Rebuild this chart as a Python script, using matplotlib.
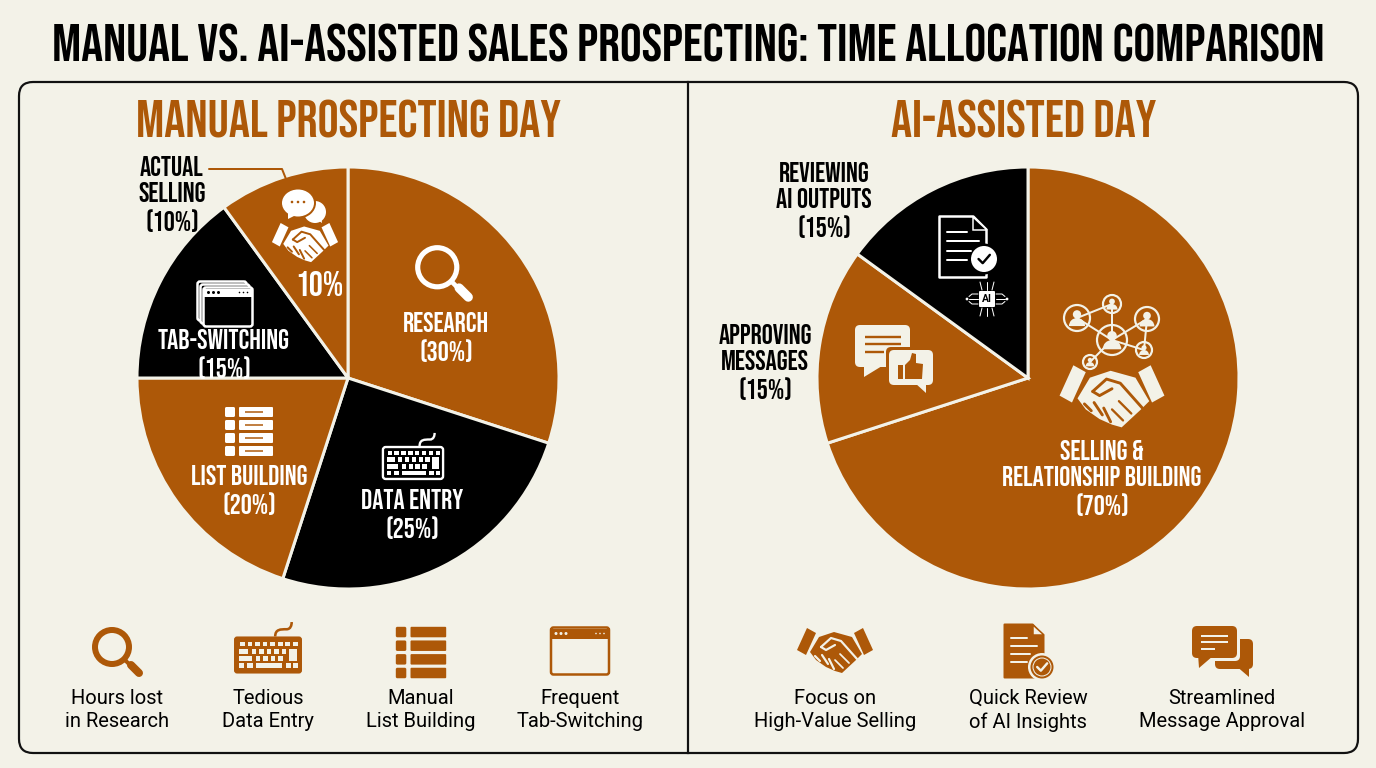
import matplotlib
matplotlib.use("Agg")
import matplotlib.pyplot as plt
from matplotlib.patches import Circle, Ellipse, FancyBboxPatch, PathPatch, Polygon, Rectangle, Wedge
from matplotlib.path import Path

BROWN = '#AD5808'
CREAM = '#F3F2E8'
BLACK = '#000000'
HEAD = ['Bebas Neue', 'DejaVu Sans']

W, H = 1376, 768

title = 'MANUAL VS. AI-ASSISTED SALES PROSPECTING: TIME ALLOCATION COMPARISON'

manual_title = 'MANUAL PROSPECTING DAY'
manual_labels = ['RESEARCH', 'DATA ENTRY', 'LIST BUILDING', 'TAB-SWITCHING', 'ACTUAL\nSELLING']
manual_values = [30, 25, 20, 15, 10]
manual_colors = [BROWN, BLACK, BROWN, BLACK, BROWN]
manual_notes = ['Hours lost\nin Research', 'Tedious\nData Entry', 'Manual\nList Building', 'Frequent\nTab-Switching']

ai_title = 'AI-ASSISTED DAY'
ai_labels = ['SELLING &\nRELATIONSHIP BUILDING', 'APPROVING\nMESSAGES', 'REVIEWING\nAI OUTPUTS']
ai_values = [70, 15, 15]
ai_colors = [BROWN, BROWN, BLACK]
ai_notes = ['Focus on\nHigh-Value Selling', 'Quick Review\nof AI Insights', 'Streamlined\nMessage Approval']


def px(n):
    # stroke widths are thought of in pixels, matplotlib wants points
    return n * 72 / 100


def rrect(ax, x0, y0, x1, y1, r, **kw):
    ax.add_patch(FancyBboxPatch((x0 + r, y0 + r), x1 - x0 - 2 * r, y1 - y0 - 2 * r,
                                boxstyle=f'round,pad={r}', **kw))


def stroke(ax, pts, color, width, cap='round'):
    xs, ys = zip(*pts)
    ax.plot(xs, ys, color=color, lw=px(width), solid_capstyle=cap, solid_joinstyle='round')


def magnifier(ax, cx, cy, s, fg, ring=6):
    ax.add_patch(Circle((cx - 5 * s, cy - 5 * s), 17 * s, fill=False, ec=fg, lw=px(ring * s)))
    stroke(ax, [(cx + 8 * s, cy + 8 * s), (cx + 13 * s, cy + 13 * s)], fg, 4 * s, 'butt')
    stroke(ax, [(cx + 14 * s, cy + 13 * s), (cx + 22 * s, cy + 21 * s)], fg, 8 * s)


def keyboard(ax, cx, cy, s, fg, bg, filled):
    x0, x1, y0, y1 = cx - 33 * s, cx + 33 * s, cy - 18 * s, cy + 18 * s
    if filled:
        rrect(ax, x0, y0, x1, y1, 3 * s, fc=fg, ec='none')
        key = bg
    else:
        rrect(ax, x0 + s, y0 + s, x1 - s, y1 - s, 3 * s, fc=bg, ec=fg, lw=px(2.5 * s))
        key = fg
    cable = Path([(cx + 7 * s, y0), (cx + 7 * s, y0 - 7 * s), (cx + 12 * s, y0 - 7 * s), (cx + 18 * s, y0 - 7 * s),
                  (cx + 22 * s, y0 - 7 * s), (cx + 23 * s, y0 - 11 * s), (cx + 23 * s, y0 - 14 * s)],
                 [Path.MOVETO] + [Path.CURVE4] * 6)
    ax.add_patch(PathPatch(cable, fill=False, ec=fg, lw=px(2.5 * s)))
    for i in range(8):
        x = cx - 27 * s + i * 7.3 * s
        ax.add_patch(Rectangle((x, cy - 13 * s), 4.6 * s, 4.6 * s, fc=key, ec='none'))
    ax.add_patch(Rectangle((cx - 28 * s, cy - 6 * s), 9 * s, 5 * s, fc=key, ec='none'))
    for i in range(5):
        ax.add_patch(Rectangle((cx - 16 * s + i * 7.3 * s, cy - 6 * s), 4.6 * s, 5 * s, fc=key, ec='none'))
    ax.add_patch(Rectangle((cx + 20 * s, cy - 6 * s), 8 * s, 12 * s, fc=key, ec='none'))
    ax.add_patch(Rectangle((cx - 28 * s, cy + 1 * s), 12 * s, 5 * s, fc=key, ec='none'))
    for i in range(4):
        ax.add_patch(Rectangle((cx - 12 * s + i * 7.3 * s, cy + 1 * s), 4.6 * s, 5 * s, fc=key, ec='none'))
    for off, wid in ((-28, 5), (-20, 5), (-12, 26), (17, 5), (24, 5)):
        ax.add_patch(Rectangle((cx + off * s, cy + 8 * s), wid * s, 5 * s, fc=key, ec='none'))


def list_icon(ax, cx, cy, s, fg, slot=None):
    for i in range(4):
        y = cy + (-24 + i * 13) * s
        rrect(ax, cx - 24 * s, y, cx - 14 * s, y + 10 * s, 1.5 * s, fc=fg, ec='none')
        rrect(ax, cx - 10 * s, y, cx + 24 * s, y + 10 * s, 1 * s, fc=fg, ec='none')
        if slot:
            stroke(ax, [(cx - 4 * s, y + 5 * s), (cx + 14 * s, y + 5 * s)], slot, 1.5 * s, 'butt')


def window(ax, cx, cy, w, h, fg, bg, bar=10):
    x0, x1, y0, y1 = cx - w / 2, cx + w / 2, cy - h / 2, cy + h / 2
    rrect(ax, x0, y0, x1, y1, 2.5, fc=bg, ec=fg, lw=px(2.5))
    ax.add_patch(Rectangle((x0, y0 + 1), w, bar, fc=fg, ec='none'))
    if not bar:
        return
    for i in range(3):
        ax.add_patch(Circle((x0 + 5 + i * 5, y0 + 1 + bar / 2), 1.5, fc=bg, ec='none'))
        ax.add_patch(Circle((x1 - 5 - i * 4, y0 + 1 + bar / 2), 0.8, fc=bg, ec='none'))


def handshake(ax, cx, cy, s, fg, bg):
    def pts(seq):
        return [(cx + a * s, cy + b * s) for a, b in seq]
    ax.add_patch(Polygon(pts([(-38, -1), (-28, -23), (-19, -18), (-29, 4)]), fc=fg, ec='none'))
    ax.add_patch(Polygon(pts([(19, -18), (28, -23), (38, -1), (29, 4)]), fc=fg, ec='none'))
    ax.add_patch(Polygon(pts([(-25, 1), (-16, -14), (-1, -19), (17, -14), (27, 3), (21, 9),
                              (7, 22), (0, 20), (-9, 16), (-19, 9)]), fc=fg, ec='none'))
    wid = 1.8 * s + 0.4
    stroke(ax, pts([(-14, -4), (-4, -13), (6, -10), (22, 8)]), bg, wid)
    stroke(ax, pts([(-14, -4), (-9, -1), (0, -6)]), bg, wid)
    stroke(ax, pts([(5, 3), (14, 12)]), bg, wid * 0.8)
    stroke(ax, pts([(0, 9), (8, 17)]), bg, wid * 0.8)
    stroke(ax, pts([(-20, 5), (-15, 10)]), bg, wid)
    stroke(ax, pts([(-13, 4), (-7, 13)]), bg, wid)
    stroke(ax, pts([(-6, 8), (-1, 18)]), bg, wid)


def document(ax, cx, cy, w, h, fg, bg, outline):
    x0, x1, y0, y1 = cx - w / 2, cx + w / 2, cy - h / 2, cy + h / 2
    fold = w * 0.28
    body = [(x0, y0), (x1 - fold, y0), (x1, y0 + fold), (x1, y1), (x0, y1)]
    if outline:
        ax.add_patch(Polygon(body, fc=bg, ec=fg, lw=px(2.5), joinstyle='round'))
        ink = fg
    else:
        ax.add_patch(Polygon(body, fc=fg, ec=fg, lw=px(2), joinstyle='round'))
        ink = bg
    ax.add_patch(Polygon([(x1 - fold, y0), (x1 - fold, y0 + fold), (x1, y0 + fold)], fc=bg, ec=fg, lw=px(1.5)))
    for i, frac in enumerate([0.42, 0.68, 0.5, 0.42]):
        y = y0 + h * (0.25 + i * 0.155)
        stroke(ax, [(x0 + w * 0.16, y), (x0 + w * (0.16 + frac), y)], ink, 2)


def check_badge(ax, x, y, r, disc, ink, gap):
    ax.add_patch(Circle((x, y), r + 2.5, fc=gap, ec='none'))
    ax.add_patch(Circle((x, y), r, fc=disc, ec='none'))
    stroke(ax, [(x - r * 0.42, y), (x - r * 0.1, y + r * 0.32), (x + r * 0.45, y - r * 0.32)], ink, 2.4)


def ai_chip(ax, cx, cy, fg, bg):
    rrect(ax, cx - 8, cy - 8, cx + 8, cy + 8, 1, fc=fg, ec='none')
    ax.text(cx, cy, 'AI', ha='center', va='center', color=bg, fontsize=7.5, fontweight='bold', family='Roboto')
    for sign in (-1, 1):
        for off in (-5, 0, 5):
            stroke(ax, [(cx + sign * 9, cy + off), (cx + sign * 15, cy + off), (cx + sign * 18, cy + off * 0.5)], fg, 1)
            stroke(ax, [(cx + off, cy + sign * 9), (cx + off * 1.4, cy + sign * 17)], fg, 1)
        ax.add_patch(Circle((cx + sign * 20, cy), 1.4, fc=fg, ec='none'))


def person_node(ax, x, y, r, fg, bg):
    ax.add_patch(Circle((x, y), r, fc=bg, ec=fg, lw=px(2.2)))
    ax.add_patch(Circle((x, y - r * 0.28), r * 0.32, fc=fg, ec='none'))
    ax.add_patch(Wedge((x, y + r * 0.62), r * 0.62, 180, 360, fc=fg, ec='none'))


def network(ax, fg, bg):
    hub = (1112, 340)
    nodes = [(1077, 318, 13), (1112, 304, 9), (1147, 319, 12), (1144, 350, 8), (1090, 362, 7)]
    for n in nodes:
        stroke(ax, [hub, n[:2]], fg, 2)
    stroke(ax, [nodes[0][:2], nodes[1][:2]], fg, 2)
    stroke(ax, [nodes[2][:2], nodes[3][:2]], fg, 2)
    person_node(ax, hub[0], hub[1], 15, fg, bg)
    for x, y, r in nodes:
        person_node(ax, x, y, r, fg, bg)


def bubble(ax, x0, y0, x1, y1, tail, fg):
    rrect(ax, x0, y0, x1, y1, 5, fc=fg, ec='none')
    ax.add_patch(Polygon(tail, fc=fg, ec='none'))


def thumb_up(ax, cx, cy, fg):
    ax.add_patch(Rectangle((cx - 13, cy - 3), 5, 14, fc=fg, ec='none'))
    ax.add_patch(Polygon([(cx - 6, cy - 3), (cx - 1, cy - 8), (cx + 1, cy - 15), (cx + 5, cy - 14),
                          (cx + 5, cy - 5), (cx + 12, cy - 4), (cx + 11, cy + 11), (cx - 6, cy + 11)],
                         fc=fg, ec='none'))


fig = plt.figure(figsize=(W / 100, H / 100), dpi=100, facecolor=CREAM)


def pie_axes(cx, cy, r):
    ax = fig.add_axes([(cx - r) / W, 1 - (cy + r) / H, 2 * r / W, 2 * r / H])
    return ax


# the two pies, both running clockwise from twelve o'clock
wedge_style = dict(edgecolor=CREAM, linewidth=px(3))
ax_manual = pie_axes(348, 378, 211)
ax_manual.pie(manual_values, colors=manual_colors, startangle=90, counterclock=False, radius=1,
              wedgeprops=wedge_style, frame=False)
ax_manual.set_xlim(-1, 1)
ax_manual.set_ylim(-1, 1)

ax_ai = pie_axes(1028, 378, 211)
ax_ai.pie(ai_values, colors=ai_colors, startangle=90, counterclock=False, radius=1,
          wedgeprops=wedge_style, frame=False)
ax_ai.set_xlim(-1, 1)
ax_ai.set_ylim(-1, 1)

# everything else sits on a pixel-scaled overlay
ov = fig.add_axes([0, 0, 1, 1], zorder=5)
ov.set_xlim(0, W)
ov.set_ylim(H, 0)
ov.axis('off')
ov.patch.set_alpha(0)

rrect(ov, 19, 82, 1358, 753, 14, fc='none', ec='#111111', lw=px(2.2))
ov.plot([688, 688], [82, 753], color='#111111', lw=px(2.2))

ov.text(688, 43, title, ha='center', va='center', family=HEAD, fontsize=39.2, color=BLACK)
ov.text(348, 119, manual_title, ha='center', va='center', family=HEAD, fontsize=37.8, color=BROWN)
ov.text(1024, 119, ai_title, ha='center', va='center', family=HEAD, fontsize=37.8, color=BROWN)


def pie_label(x, y, name, value, color):
    ov.text(x, y, f'{name}\n({value}%)', ha='center', va='center', family=HEAD,
            fontsize=20, color=color, linespacing=1.32)


pie_label(446, 337, manual_labels[0], manual_values[0], 'white')
pie_label(412, 514, manual_labels[1], manual_values[1], 'white')
pie_label(249, 490, manual_labels[2], manual_values[2], 'white')
pie_label(224, 354, manual_labels[3], manual_values[3], 'white')
pie_label(172, 194, manual_labels[4], manual_values[4], BLACK)
ov.text(319, 284, f'{manual_values[4]}%', ha='center', va='center', family=HEAD, fontsize=25, color='white')
stroke(ov, [(209, 169), (282, 169), (286, 179)], BROWN, 2)

pie_label(1102, 478, ai_labels[0], ai_values[0], 'white')
pie_label(765, 362, ai_labels[1], ai_values[1], BLACK)
pie_label(824, 200, ai_labels[2], ai_values[2], BLACK)

# icons inside the manual pie
magnifier(ov, 443, 273, 1.15, 'white', ring=4.5)
keyboard(ov, 413, 463, 0.94, 'white', BLACK, False)
list_icon(ov, 249, 431, 1.0, 'white', BROWN)
for off in (-6, -3):
    window(ov, 228 + off, 307 + off, 49, 39, 'white', BLACK, 0)
window(ov, 228, 307, 49, 39, 'white', BLACK, 8)
ov.add_patch(Ellipse((315, 212), 22, 22, fc='white', ec='none'))
ov.add_patch(Polygon([(315, 218), (322, 223), (321, 214)], fc='white', ec='none'))
ov.add_patch(Ellipse((298, 203), 36, 31, fc=BROWN, ec='none'))
ov.add_patch(Ellipse((298, 203), 32, 27, fc='white', ec='none'))
ov.add_patch(Polygon([(288, 212), (288, 219), (298, 214)], fc='white', ec='none'))
for dx in (-6, 0, 6):
    ov.add_patch(Circle((298 + dx, 202), 1.3, fc=BROWN, ec='none'))
handshake(ov, 305, 243, 0.87, 'white', BROWN)

# icons inside the AI pie
document(ov, 963, 247, 47, 61, 'white', BLACK, True)
check_badge(ov, 984, 259, 13, 'white', BLACK, BLACK)
ai_chip(ov, 987, 299, 'white', BLACK)
bubble(ov, 855, 325, 910, 367, [(864, 362), (864, 377), (882, 366)], CREAM)
for y, x1 in ((337, 901), (344, 901), (352, 884)):
    stroke(ov, [(865, y), (x1, y)], BROWN, 2.4, 'butt')
bubble(ov, 886, 347, 936, 388, [(915, 383), (926, 394), (926, 383)], BROWN)
bubble(ov, 889, 350, 933, 385, [(915, 383), (926, 393), (926, 383)], CREAM)
thumb_up(ov, 911, 368, BROWN)
network(ov, CREAM, BROWN)
handshake(ov, 1112, 397, 1.38, CREAM, BROWN)

# bottom rows: icon with a short note under it
magnifier(ov, 117, 652, 1.0, BROWN)
keyboard(ov, 268, 655, 1.03, BROWN, CREAM, True)
list_icon(ov, 421, 652, 1.05, BROWN)
window(ov, 580, 651, 58, 47, BROWN, CREAM, 10)

handshake(ov, 835, 651, 1.0, BROWN, CREAM)
document(ov, 1024, 651, 39, 53, BROWN, CREAM, False)
check_badge(ov, 1042, 667, 11.5, BROWN, CREAM, CREAM)
ov.add_patch(Circle((1042, 667), 9, fc='none', ec=CREAM, lw=px(1)))
bubble(ov, 1215, 639, 1253, 669, [(1235, 665), (1249, 677), (1249, 665)], BROWN)
bubble(ov, 1189, 623, 1240, 661, [(1196, 656), (1197, 672), (1215, 658)], CREAM)
bubble(ov, 1192, 626, 1237, 658, [(1198, 654), (1199, 668), (1213, 656)], BROWN)
for y, x1 in ((636, 1228), (642, 1228), (649, 1215)):
    stroke(ov, [(1201, y), (x1, y)], CREAM, 2, 'butt')

for x, note in zip([117, 268, 421, 580], manual_notes):
    ov.text(x, 710, note, ha='center', va='center', family='Roboto', fontsize=14.5, color=BLACK, linespacing=1.32)
for x, note in zip([835, 1028, 1222], ai_notes):
    ov.text(x, 710, note, ha='center', va='center', family='Roboto', fontsize=14.5, color=BLACK, linespacing=1.32)

fig.savefig('out.png', dpi=100, facecolor=CREAM)
